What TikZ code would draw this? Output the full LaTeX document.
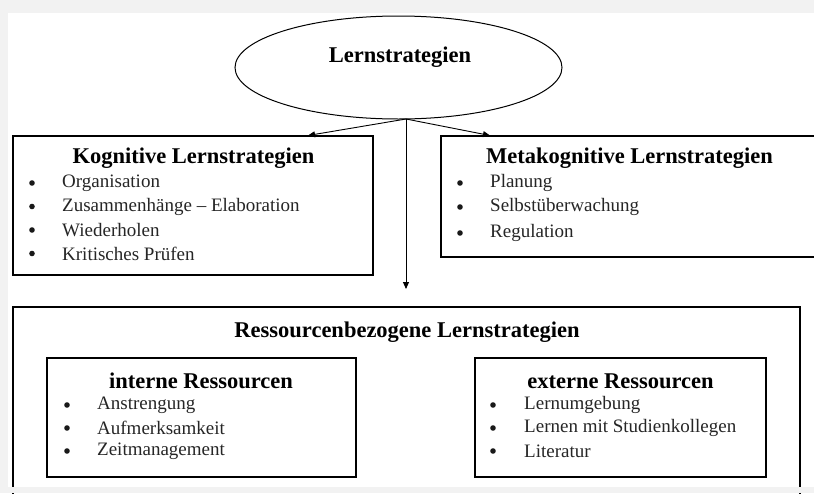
\documentclass[tikz,border=0pt]{standalone}
\usepackage{fontspec}
\setmainfont{Liberation Serif}
\usetikzlibrary{shapes.geometric,arrows.meta}
\begin{document}
\begin{tikzpicture}[x=1pt,y=-1pt,
  ttl/.style={font=\fontsize{22.5}{26}\selectfont\bfseries, inner sep=0pt},
  itm/.style={font=\fontsize{19}{22}\selectfont, text=black!85, anchor=west, inner sep=0pt},
  bul/.style={circle, fill=black!90, minimum size=5.6pt, inner sep=0pt},
  box/.style={draw=black, line width=1.7pt},
  outerbox/.style={draw=black, line width=1.3pt},
  arr/.style={line width=0.9pt, -{Triangle[length=7pt,width=6pt]}}]
\useasboundingbox (0,0) rectangle (814,493);
\fill[gray!10] (0,0) rectangle (814,493);
\fill[white] (8,13) rectangle (814,487);
\begin{scope}
\clip (0,0) rectangle (814,493);
% top ellipse
\node[ellipse, draw, line width=1pt, minimum width=327pt, minimum height=103pt, inner sep=0pt] (ls) at (398.5,67.5) {};
\node[ttl] (lstext) at (400,57) {Lernstrategien};
% boxes
\draw[box] (13,136) rectangle (373,275);
\draw[box] (441,136) rectangle (830,257);
\draw[outerbox] (13,307) rectangle (800,520);
\draw[box] (47,358) rectangle (356,477);
\draw[box] (475,358) rectangle (766,477);
% connectors
\coordinate (j) at (406,119);
\coordinate (kt) at (308,135.5);
\coordinate (mt) at (490,135.5);
\coordinate (vt) at (406,289);
\draw[arr] (j) -- (kt);
\draw[arr] (j) -- (mt);
\draw[arr] (j) -- (vt);
% titles
\node[ttl] (kti) at (193.5,158) {Kognitive Lernstrategien};
\node[ttl] (mti) at (629.5,158) {Metakognitive Lernstrategien};
\node[ttl] (rti) at (407,332) {Ressourcenbezogene Lernstrategien};
\node[ttl] (iti) at (201,381) {interne Ressourcen};
\node[ttl] (eti) at (620.5,381) {externe Ressourcen};
% Kognitive items
\node[bul] (kb1) at (32,183) {}; \node[itm] (k1) at (62,183) {Organisation};
\node[bul] (kb2) at (32,206.5) {}; \node[itm] (k2) at (62,206.5) {Zusammenhänge – Elaboration};
\node[bul] (kb3) at (32,230) {}; \node[itm] (k3) at (62,230) {Wiederholen};
\node[bul] (kb4) at (32,253.5) {}; \node[itm] (k4) at (62,253.5) {Kritisches Prüfen};
% Metakognitive items
\node[bul] (mb1) at (460,183) {}; \node[itm] (m1) at (490,183) {Planung};
\node[bul] (mb2) at (460,207) {}; \node[itm] (m2) at (490,207) {Selbstüberwachung};
\node[bul] (mb3) at (460,233) {}; \node[itm] (m3) at (490,233) {Regulation};
% interne items
\node[bul] (ib1) at (67,405) {}; \node[itm] (i1) at (97,405) {Anstrengung};
\node[bul] (ib2) at (67,428) {}; \node[itm] (i2) at (97,428) {Aufmerksamkeit};
\node[bul] (ib3) at (67,451) {}; \node[itm] (i3) at (97,451) {Zeitmanagement};
% externe items
\node[bul] (eb1) at (493,405) {}; \node[itm] (e1) at (524,405) {Lernumgebung};
\node[bul] (eb2) at (493,428) {}; \node[itm] (e2) at (524,428) {Lernen mit Studienkollegen};
\node[bul] (eb3) at (493,451) {}; \node[itm] (e3) at (524,451) {Literatur};
\end{scope}
\fill[gray!10] (0,487) rectangle (814,493);
\end{tikzpicture}
\end{document}
